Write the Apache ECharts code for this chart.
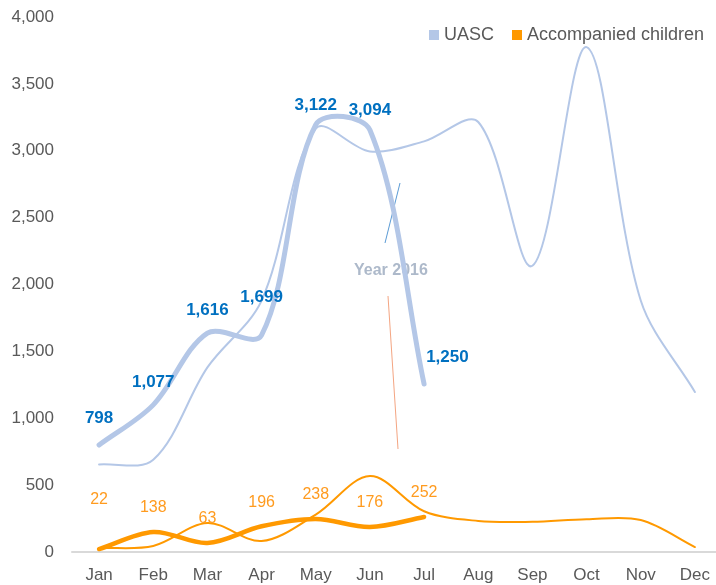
<!DOCTYPE html>
<html>
<head>
<meta charset="utf-8">
<script src="https://cdn.jsdelivr.net/npm/echarts@6/dist/echarts.min.js"></script>
<style>
  html, body { margin: 0; padding: 0; background: #fff; }
  #chart { width: 716px; height: 585px; }
</style>
</head>
<body>
<div id="chart"></div>
<script>
// categories
const months = ['Jan', 'Feb', 'Mar', 'Apr', 'May', 'Jun', 'Jul', 'Aug', 'Sep', 'Oct', 'Nov', 'Dec']

// UASC, 2016 (thick) and previous year (thin)
const uasc2016 = [800, 1100, 1637, 1622, 3195, 3155, 1256]
const uasc2016Labels = ['798', '1,077', '1,616', '1,699', '3,122', '3,094', '1,250']
const uascPrev = [655, 690, 1380, 1880, 3165, 2995, 3070, 3215, 2140, 3775, 1880, 1196]

// Accompanied children, 2016 (thick) and previous year (thin)
const accomp2016 = [22, 150, 67, 192, 247, 187, 262]
const accomp2016Labels = ['22', '138', '63', '196', '238', '176', '252']
const accompPrev = [30, 45, 217, 82, 280, 568, 305, 232, 226, 245, 239, 37]

// y ticks
const yMin = 0
const yMax = 4000
const yStep = 500

const BLUE = '#b4c7e7'
const ORANGE = '#ff9900'
const FONT = '"Liberation Sans", Arial, sans-serif'

const chart = echarts.init(document.getElementById('chart'), null, { renderer: 'canvas' })

const fmt = (v) => v.toLocaleString('en-US')

// Excel-like smoothed line: chord-length weighted catmull-rom drawn as beziers
function smoothPath(pts, k) {
	if (pts.length < 2) return ''
	const dist = (a, b) => Math.hypot(b[0] - a[0], b[1] - a[1])
	let d = 'M' + pts[0][0] + ' ' + pts[0][1]
	for (let i = 0; i < pts.length - 1; i++) {
		const p0 = pts[i - 1] || pts[i]
		const p1 = pts[i]
		const p2 = pts[i + 1]
		const p3 = pts[i + 2] || pts[i + 1]
		const l01 = dist(p0, p1)
		const l12 = dist(p1, p2)
		const l23 = dist(p2, p3)
		const w1 = l12 / ((l01 + l12) || 1)
		const w2 = l12 / ((l12 + l23) || 1)
		const c1x = p1[0] + (p2[0] - p0[0]) * w1 * k
		const c1y = p1[1] + (p2[1] - p0[1]) * w1 * k
		const c2x = p2[0] - (p3[0] - p1[0]) * w2 * k
		const c2y = p2[1] - (p3[1] - p1[1]) * w2 * k
		d += ' C' + c1x + ' ' + c1y + ' ' + c2x + ' ' + c2y + ' ' + p2[0] + ' ' + p2[1]
	}
	return d
}

function curveSeries(name, values, color, width, z) {
	return {
		name: name,
		type: 'custom',
		data: values.map((v, i) => [i, v]),
		z: z,
		silent: true,
		clip: false,
		renderItem: (params, api) => {
			if (params.dataIndex !== 0) return null
			const pts = values.map((v, i) => api.coord([i, v]))
			return {
				type: 'path',
				shape: { pathData: smoothPath(pts, 1 / 3) },
				style: { fill: 'none', stroke: color, lineWidth: width, lineCap: 'round', lineJoin: 'round' }
			}
		}
	}
}

// extra nudges for a few labels, as placed in the original
const uascOffsets = [[0, -4], [0, 0], [0, 0], [0, -15], [0, 3], [0, 3], null]
const accompOffsets = [[0, -25], [0, 0], [0, 0], [0, 0], [0, 0], [0, 0], [0, 0]]

const uascThick = uasc2016.map((v, i) => {
	const item = { value: v, label: { formatter: uasc2016Labels[i] } }
	if (i === 6) {
		item.label.position = 'right'
		item.label.distance = 2
		item.label.offset = [0, -27]
	} else {
		item.label.offset = uascOffsets[i]
	}
	return item
})

const accompThick = accomp2016.map((v, i) => ({
	value: v,
	label: { formatter: accomp2016Labels[i], offset: accompOffsets[i] }
}))

// invisible line series carry the legend entries and data labels
function labelSeries(name, data, color, label) {
	return {
		name: name,
		type: 'line',
		data: data,
		symbol: 'circle',
		symbolSize: 0.1,
		showSymbol: true,
		lineStyle: { opacity: 0, width: 0 },
		itemStyle: { color: color },
		label: label,
		z: 5
	}
}

const option = {
	animation: false,
	backgroundColor: '#fff',
	textStyle: { fontFamily: FONT },
	legend: {
		data: ['UASC', 'Accompanied children'],
		top: 21,
		left: 424,
		icon: 'rect',
		itemWidth: 10,
		itemHeight: 10,
		itemGap: 18,
		textStyle: { color: '#595959', fontSize: 18, fontFamily: FONT }
	},
	grid: {
		left: 72,
		top: 17,
		width: 650,
		height: 535,
		containLabel: false,
		outerBoundsMode: 'none'
	},
	xAxis: {
		type: 'category',
		data: months,
		boundaryGap: true,
		axisLine: { lineStyle: { color: '#d9d9d9', width: 2 } },
		axisTick: { show: false },
		axisLabel: { color: '#595959', fontSize: 17, margin: 15 }
	},
	yAxis: {
		type: 'value',
		min: yMin,
		max: yMax,
		interval: yStep,
		axisLine: { show: false },
		axisTick: { show: false },
		splitLine: { show: false },
		axisLabel: { color: '#595959', fontSize: 17, margin: 18, formatter: fmt }
	},
	series: [
		curveSeries('UASC 2015', uascPrev, BLUE, 2, 2),
		curveSeries('Accompanied children 2015', accompPrev, ORANGE, 2, 2),
		curveSeries('UASC 2016', uasc2016, BLUE, 5, 3),
		curveSeries('Accompanied children 2016', accomp2016, ORANGE, 4.5, 3),
		labelSeries('UASC', uascThick, BLUE, {
			show: true,
			position: 'top',
			distance: 14,
			color: '#0070c0',
			fontWeight: 'bold',
			fontSize: 17
		}),
		labelSeries('Accompanied children', accompThick, ORANGE, {
			show: true,
			position: 'top',
			distance: 16,
			color: '#ff9b1f',
			fontSize: 16
		})
	],
	graphic: [
		{
			type: 'text',
			left: 354,
			top: 263,
			style: { text: 'Year 2016', fill: '#adb9ca', font: 'bold 16px ' + FONT }
		},
		{
			type: 'line',
			shape: { x1: 385, y1: 243, x2: 400, y2: 183 },
			style: { stroke: '#5b9bd5', lineWidth: 1 }
		},
		{
			type: 'line',
			shape: { x1: 388, y1: 296, x2: 398, y2: 449 },
			style: { stroke: '#f4a582', lineWidth: 1 }
		}
	]
}

chart.setOption(option)
</script>
</body>
</html>
